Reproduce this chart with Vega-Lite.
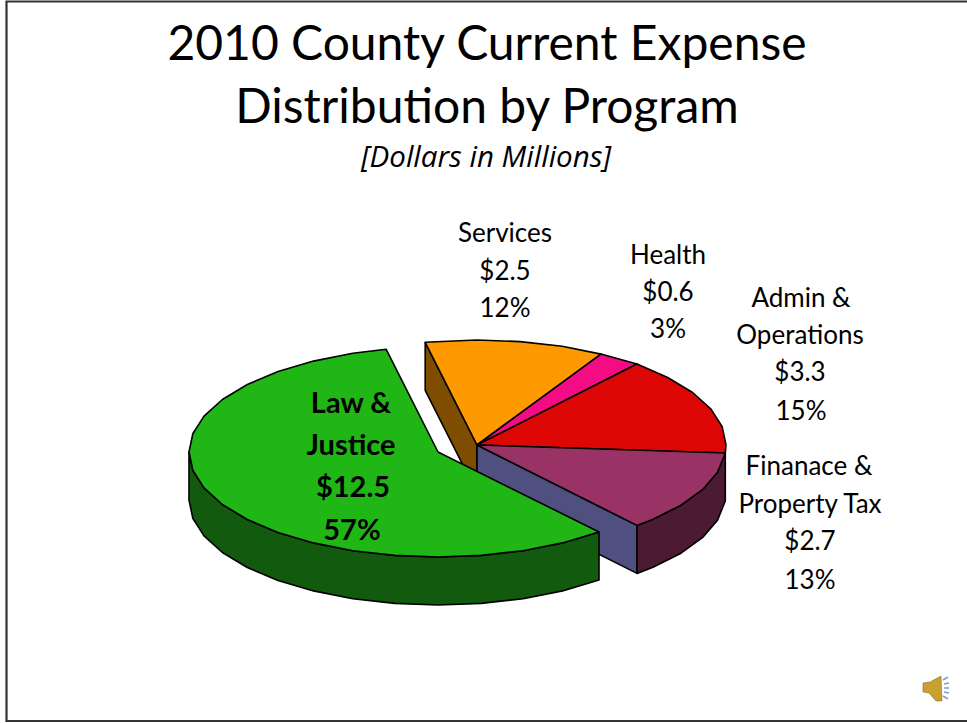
{"$schema":"https://vega.github.io/schema/vega-lite/v6.json","width":967,"height":723,"padding":0,"autosize":"none","background":"white","view":{"stroke":null},
"datasets":{
"pie":[
{"p":"Services side","i":1,"x":425.2,"y":342.3},{"p":"Services side","i":2,"x":477,"y":445},{"p":"Services side","i":3,"x":477,"y":493},{"p":"Services side","i":4,"x":425.2,"y":390.3},{"p":"Services side","i":5,"x":425.2,"y":342.3},
{"p":"Finance cut","i":1,"x":477,"y":445},{"p":"Finance cut","i":2,"x":637,"y":525.4},{"p":"Finance cut","i":3,"x":637,"y":573.4},{"p":"Finance cut","i":4,"x":477,"y":493},{"p":"Finance cut","i":5,"x":477,"y":445},
{"p":"Finance side","i":1,"x":725.3,"y":453},{"p":"Finance side","i":2,"x":717.5,"y":472.2},{"p":"Finance side","i":3,"x":702.7,"y":489.4},{"p":"Finance side","i":4,"x":681,"y":505.2},{"p":"Finance side","i":5,"x":653,"y":519.2},{"p":"Finance side","i":6,"x":637,"y":525.4},{"p":"Finance side","i":7,"x":637,"y":573.4},{"p":"Finance side","i":8,"x":653,"y":567.2},{"p":"Finance side","i":9,"x":681,"y":553.2},{"p":"Finance side","i":10,"x":702.7,"y":537.4},{"p":"Finance side","i":11,"x":717.5,"y":520.2},{"p":"Finance side","i":12,"x":725.3,"y":501},{"p":"Finance side","i":13,"x":725.3,"y":453},
{"p":"Law side","i":1,"x":599,"y":532},{"p":"Law side","i":2,"x":562.5,"y":542.9},{"p":"Law side","i":3,"x":523.2,"y":550.7},{"p":"Law side","i":4,"x":481.2,"y":555.4},{"p":"Law side","i":5,"x":438,"y":557},{"p":"Law side","i":6,"x":394.8,"y":555.4},{"p":"Law side","i":7,"x":352.8,"y":550.7},{"p":"Law side","i":8,"x":313.5,"y":542.9},{"p":"Law side","i":9,"x":278,"y":532.4},{"p":"Law side","i":10,"x":247.3,"y":519.5},{"p":"Law side","i":11,"x":222.4,"y":504.5},{"p":"Law side","i":12,"x":204,"y":487.9},{"p":"Law side","i":13,"x":192.8,"y":470.2},{"p":"Law side","i":14,"x":189,"y":452},{"p":"Law side","i":15,"x":189,"y":500},{"p":"Law side","i":16,"x":192.8,"y":518.2},{"p":"Law side","i":17,"x":204,"y":535.9},{"p":"Law side","i":18,"x":222.4,"y":552.5},{"p":"Law side","i":19,"x":247.3,"y":567.5},{"p":"Law side","i":20,"x":278,"y":580.4},{"p":"Law side","i":21,"x":313.5,"y":590.9},{"p":"Law side","i":22,"x":352.8,"y":598.7},{"p":"Law side","i":23,"x":394.8,"y":603.4},{"p":"Law side","i":24,"x":438,"y":605},{"p":"Law side","i":25,"x":481.2,"y":603.4},{"p":"Law side","i":26,"x":523.2,"y":598.7},{"p":"Law side","i":27,"x":562.5,"y":590.9},{"p":"Law side","i":28,"x":599,"y":580},{"p":"Law side","i":29,"x":599,"y":532},
{"p":"Services","i":1,"x":477,"y":445},{"p":"Services","i":2,"x":425.2,"y":342.3},{"p":"Services","i":3,"x":477,"y":340},{"p":"Services","i":4,"x":520.2,"y":341.6},{"p":"Services","i":5,"x":562.2,"y":346.3},{"p":"Services","i":6,"x":601,"y":354.1},{"p":"Services","i":7,"x":477,"y":445},
{"p":"Health","i":1,"x":477,"y":445},{"p":"Health","i":2,"x":601,"y":354.1},{"p":"Health","i":3,"x":637,"y":364},{"p":"Health","i":4,"x":477,"y":445},
{"p":"Admin","i":1,"x":477,"y":445},{"p":"Admin","i":2,"x":637,"y":364},{"p":"Admin","i":3,"x":667.7,"y":377.5},{"p":"Admin","i":4,"x":692.6,"y":392.5},{"p":"Admin","i":5,"x":711,"y":409.1},{"p":"Admin","i":6,"x":722.2,"y":426.8},{"p":"Admin","i":7,"x":726,"y":445},{"p":"Admin","i":8,"x":725.3,"y":453},{"p":"Admin","i":9,"x":477,"y":445},
{"p":"Finance","i":1,"x":477,"y":445},{"p":"Finance","i":2,"x":725.3,"y":453},{"p":"Finance","i":3,"x":717.5,"y":472.2},{"p":"Finance","i":4,"x":702.7,"y":489.4},{"p":"Finance","i":5,"x":681,"y":505.2},{"p":"Finance","i":6,"x":653,"y":519.2},{"p":"Finance","i":7,"x":637,"y":525.4},{"p":"Finance","i":8,"x":477,"y":445},
{"p":"Law","i":1,"x":438,"y":452},{"p":"Law","i":2,"x":599,"y":532},{"p":"Law","i":3,"x":562.5,"y":542.9},{"p":"Law","i":4,"x":523.2,"y":550.7},{"p":"Law","i":5,"x":481.2,"y":555.4},{"p":"Law","i":6,"x":438,"y":557},{"p":"Law","i":7,"x":394.8,"y":555.4},{"p":"Law","i":8,"x":352.8,"y":550.7},{"p":"Law","i":9,"x":313.5,"y":542.9},{"p":"Law","i":10,"x":278,"y":532.4},{"p":"Law","i":11,"x":247.3,"y":519.5},{"p":"Law","i":12,"x":222.4,"y":504.5},{"p":"Law","i":13,"x":204,"y":487.9},{"p":"Law","i":14,"x":192.8,"y":470.2},{"p":"Law","i":15,"x":189,"y":452},{"p":"Law","i":16,"x":192.8,"y":433.8},{"p":"Law","i":17,"x":204,"y":416.1},{"p":"Law","i":18,"x":222.4,"y":399.5},{"p":"Law","i":19,"x":247.3,"y":384.5},{"p":"Law","i":20,"x":278,"y":371.6},{"p":"Law","i":21,"x":313.5,"y":361.1},{"p":"Law","i":22,"x":352.8,"y":353.3},{"p":"Law","i":23,"x":386.2,"y":349.3},{"p":"Law","i":24,"x":438,"y":452}
],
"frame":[
{"s":"a","i":1,"x":967,"y":1.5},{"s":"a","i":2,"x":6.5,"y":1.5},{"s":"a","i":3,"x":6.5,"y":721},{"s":"a","i":4,"x":967,"y":721}
],
"icon":[
{"p":"cone","i":1,"x":923,"y":683},{"p":"cone","i":2,"x":930,"y":682},{"p":"cone","i":3,"x":941,"y":676},{"p":"cone","i":4,"x":942,"y":701},{"p":"cone","i":5,"x":936,"y":701},{"p":"cone","i":6,"x":929,"y":693},{"p":"cone","i":7,"x":923,"y":692},{"p":"cone","i":8,"x":923,"y":683}
],
"waves":[
{"w":"a","i":1,"x":943,"y":680},{"w":"a","i":2,"x":948,"y":677},
{"w":"b","i":1,"x":944,"y":684},{"w":"b","i":2,"x":949,"y":683},
{"w":"c","i":1,"x":944,"y":688},{"w":"c","i":2,"x":949,"y":688},
{"w":"d","i":1,"x":944,"y":692},{"w":"d","i":2,"x":949,"y":693},
{"w":"e","i":1,"x":943,"y":696},{"w":"e","i":2,"x":948,"y":699}
],
"labels":[
{"t":"Services","x":505,"y":242},{"t":"$2.5","x":505,"y":280},{"t":"12%","x":505,"y":317},
{"t":"Health","x":668,"y":264},{"t":"$0.6","x":668,"y":301},{"t":"3%","x":668,"y":338},
{"t":"Admin &","x":801,"y":307},{"t":"Operations","x":800,"y":344},{"t":"$3.3","x":800,"y":381},{"t":"15%","x":801,"y":420},
{"t":"Finanace &","x":809,"y":475},{"t":"Property Tax","x":810,"y":513},{"t":"$2.7","x":810,"y":550},{"t":"13%","x":810,"y":589}
],
"bold":[
{"t":"Law &","x":351,"y":413},{"t":"Justice","x":351,"y":455},{"t":"$12.5","x":353,"y":497},{"t":"57%","x":352,"y":540}
],
"title":[
{"t":"2010 County Current Expense","x":487,"y":60},{"t":"Distribution by Program","x":487,"y":123}
],
"sub":[{"t":"[Dollars in Millions]","x":486,"y":167}]
},
"encoding":{
"x":{"field":"x","type":"quantitative","axis":null,"scale":{"domain":[0,967],"nice":false,"zero":false}},
"y":{"field":"y","type":"quantitative","axis":null,"scale":{"domain":[723,0],"nice":false,"zero":false}}
},
"layer":[
{"data":{"name":"pie"},"mark":{"type":"line","stroke":"black","strokeWidth":1.6,"strokeJoin":"round","clip":false},
"encoding":{"order":{"field":"i"},"detail":{"field":"p"},
"fill":{"field":"p","type":"nominal","legend":null,"sort":null,"scale":{"domain":["Services side","Finance cut","Finance side","Law side","Services","Health","Admin","Finance","Law"],"range":["#7F4D00","#4F4F80","#4D1A33","#115A0E","#FF9900","#F50C85","#DD0806","#993366","#20B716"]}},
"stroke":{"value":"black"}}},
{"data":{"name":"frame"},"mark":{"type":"line","stroke":"#333333","strokeWidth":2.2,"clip":false},"encoding":{"order":{"field":"i"},"stroke":{"value":"#333333"}}},
{"data":{"name":"icon"},"mark":{"type":"line","strokeWidth":0.5},"encoding":{"order":{"field":"i"},"fill":{"value":"#C8A030"},"stroke":{"value":"#7A6018"}}},
{"data":{"name":"waves"},"mark":{"type":"line","strokeWidth":1.5},"encoding":{"order":{"field":"i"},"detail":{"field":"w"},"stroke":{"value":"#7C9CD0"}}},
{"data":{"name":"title"},"mark":{"type":"text","font":"Lato","fontSize":48,"baseline":"alphabetic","align":"center","color":"black"},"encoding":{"text":{"field":"t"}}},
{"data":{"name":"sub"},"mark":{"type":"text","font":"Open Sans","fontSize":29.5,"fontStyle":"italic","baseline":"alphabetic","align":"center","color":"black"},"encoding":{"text":{"field":"t"}}},
{"data":{"name":"labels"},"mark":{"type":"text","font":"Lato","fontSize":26,"baseline":"alphabetic","align":"center","color":"black"},"encoding":{"text":{"field":"t"}}},
{"data":{"name":"bold"},"mark":{"type":"text","font":"Lato","fontSize":29,"fontWeight":"bold","baseline":"alphabetic","align":"center","color":"black"},"encoding":{"text":{"field":"t"}}}
]}
